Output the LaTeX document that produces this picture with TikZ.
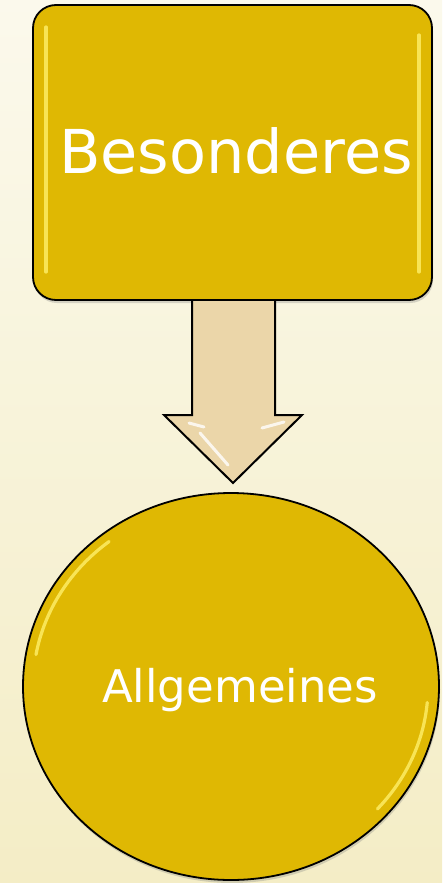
\documentclass[tikz,border=0pt]{standalone}
\usepackage{fontspec}
\setmainfont{DejaVu Sans}
\usetikzlibrary{shapes.geometric,shadows}
\definecolor{gold}{HTML}{DFB803}
\definecolor{goldhi}{HTML}{FFF06A}
\definecolor{tan}{HTML}{EBD6A9}
\definecolor{bgtop}{HTML}{FBF9EC}
\definecolor{bgbot}{HTML}{F4EDC6}
\tikzset{
  goldbox/.style={draw=black, line width=1.8pt, fill=gold, rounded corners=23pt,
    drop shadow={shadow xshift=1pt, shadow yshift=-3pt, opacity=0.3}},
  goldcirc/.style={draw=black, line width=1.8pt, fill=gold, ellipse,
    drop shadow={shadow xshift=1pt, shadow yshift=-3pt, opacity=0.3}},
  arrowshape/.style={draw=black, line width=2pt, fill=tan, line join=miter},
  hilite/.style={draw=goldhi, line width=3.2pt, line cap=round, opacity=0.8},
  lbl/.style={text=white}
}
\begin{document}
\begin{tikzpicture}[x=1pt,y=-1pt]
\useasboundingbox (0,0) rectangle (442,883);
\shade[top color=bgtop, bottom color=bgbot] (0,0) rectangle (442,883);
% top box
\node[goldbox, minimum width=399pt, minimum height=295pt, inner sep=0pt] (box) at (232.5,152.5) {};
\draw[hilite] (46,27) -- (46,272);
\draw[hilite] (419,35) -- (419,272);
\node[lbl, font=\fontsize{60.5}{64}\selectfont] (t1) at (236,151) {Besonderes};
% circle
\node[goldcirc, minimum width=416pt, minimum height=387pt, inner sep=0pt] (circ) at (231,686.5) {};
\draw[hilite] (circ.center) ++(190:{198} and {184}) arc[start angle=190, end angle=232, x radius=198, y radius=184];
\draw[hilite] (circ.center) ++(5:{197} and {183}) arc[start angle=5, end angle=42, x radius=197, y radius=183];
\node[lbl, font=\fontsize{45}{48}\selectfont] (t2) at (240,690) {Allgemeines};
% arrow
\coordinate (a1) at (192,301);
\coordinate (a2) at (275,301);
\draw[arrowshape] (a1) -- (192,415) -- (164,415) -- (233,483) -- (302,415) -- (275,415) -- (a2);
\draw[white, line width=3pt, opacity=0.8, line cap=round] (189,423) -- (204,427);
\draw[white, line width=3pt, opacity=0.8, line cap=round] (200,433) -- (228,465);
\draw[white, line width=3pt, opacity=0.8, line cap=round] (262,428) -- (284,422);
\end{tikzpicture}
\end{document}
